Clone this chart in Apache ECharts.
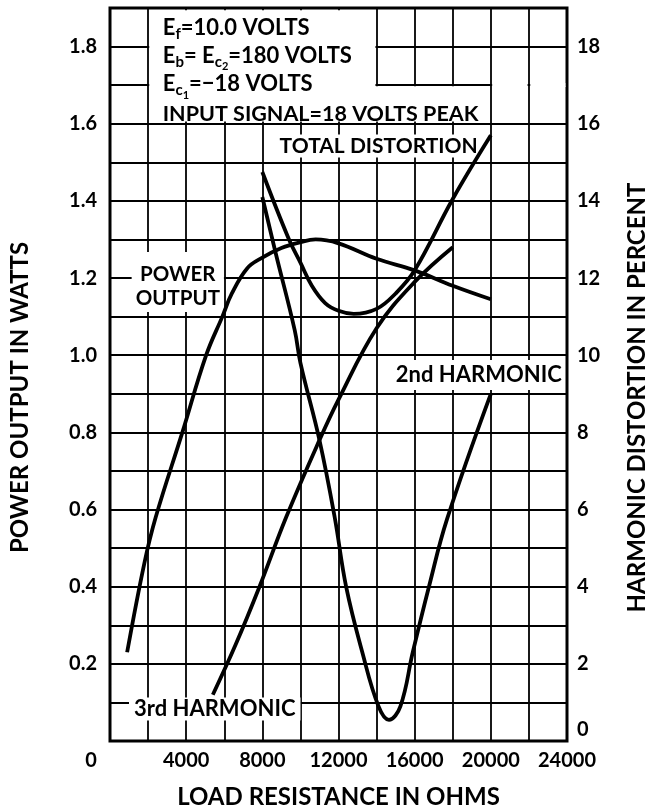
<!DOCTYPE html>
<html>
<head>
<meta charset="utf-8">
<script src="https://cdn.jsdelivr.net/npm/echarts@6/dist/echarts.min.js"></script>
<style>html,body{margin:0;padding:0;background:#fff}#c{width:652px;height:812px}</style>
</head>
<body>
<div id="c"></div>
<script>
// ---- data (load resistance in ohms, value) ----
const xTickLabels = [0, 4000, 8000, 12000, 16000, 20000, 24000];
const leftTickLabels = [0.2, 0.4, 0.6, 0.8, 1.0, 1.2, 1.4, 1.6, 1.8];
const rightTickLabels = [0, 2, 4, 6, 8, 10, 12, 14, 16, 18];

// Power output, watts (left axis)
const powerOutput = [
  [900, 0.23], [1800, 0.46], [2400, 0.58], [3800, 0.80], [5050, 1.0], [5900, 1.10],
  [6400, 1.16], [7200, 1.225], [8000, 1.253], [9000, 1.278], [10000, 1.293],
  [10800, 1.30], [12000, 1.29], [14000, 1.25], [16000, 1.22], [18000, 1.18], [20000, 1.145]
];
// Total distortion, percent (right axis)
const totalDistortion = [
  [8000, 14.75], [9400, 13.0], [10000, 12.4], [10600, 11.8], [11300, 11.35],
  [12000, 11.15], [12800, 11.07], [14000, 11.2], [15000, 11.6], [16000, 12.2],
  [18000, 14.05], [20000, 15.7]
];
// 2nd harmonic, percent (right axis)
const secondHarmonic = [
  [8000, 14.1], [8700, 12.65], [9700, 10.65], [10000, 9.8], [11000, 7.8],
  [11800, 5.8], [12400, 4.0], [13250, 2.3], [14100, 0.9], [14650, 0.55],
  [15250, 0.9], [15900, 2.3], [16750, 4.0], [17700, 5.75], [20000, 9.0]
];
// 3rd harmonic, percent (right axis)
const thirdHarmonic = [
  [5400, 1.2], [6600, 2.5], [7850, 4.0], [9250, 5.8], [11000, 7.8],
  [12000, 8.85], [14000, 10.7], [16000, 11.9], [18000, 12.8]
];

const FONT = 'Lato';
const BLACK = '#000';
const chart = echarts.init(document.getElementById('c'), null, {renderer: 'canvas'});

const tickFont = {fontFamily: FONT, fontWeight: 'bold', fontSize: 20, color: BLACK};
function annFont(size) {
  return {fontFamily: FONT, fontWeight: 'bold', fontSize: size, color: BLACK};
}
const titleFont = {fontFamily: FONT, fontWeight: 'bold', fontSize: 24, color: BLACK};

const richBox = {
  n: {fontFamily: FONT, fontWeight: 'bold', fontSize: 22, color: BLACK, lineHeight: 26},
  w: {fontFamily: FONT, fontWeight: 'bold', fontSize: 21.5, color: BLACK, lineHeight: 26},
  s: {fontFamily: FONT, fontWeight: 'bold', fontSize: 15, color: BLACK, lineHeight: 26, padding: [12, 0, 0, 0]},
  ss: {fontFamily: FONT, fontWeight: 'bold', fontSize: 11, color: BLACK, lineHeight: 26, padding: [22, 0, 0, 0]}
};

function boxLine(coord, text) {
  return {coord: coord, label: {formatter: text}};
}

const option = {
  animation: false,
  backgroundColor: '#fff',
  grid: {
    left: 110, right: 85, top: 8, bottom: 71, outerBoundsMode: 'none', containLabel: false,
    show: true, borderColor: BLACK, borderWidth: 3, backgroundColor: 'transparent'
  },
  xAxis: {
    type: 'value', min: 0, max: 24000, interval: 2000,
    name: 'LOAD RESISTANCE IN OHMS', nameLocation: 'middle', nameGap: 44,
    nameTextStyle: titleFont,
    axisLine: {show: false}, axisTick: {show: false},
    splitLine: {show: true, lineStyle: {color: BLACK, width: 1.8}},
    axisLabel: Object.assign({}, tickFont, {
      margin: 10,
      formatter: v => xTickLabels.includes(v) ? (v === 0 ? '{z|0}' : String(v)) : '',
      rich: {z: Object.assign({}, tickFont, {padding: [0, 38, 0, 0]})}
    })
  },
  yAxis: [
    {
      type: 'value', min: 0, max: 1.9, interval: 0.1, position: 'left',
      name: 'POWER OUTPUT IN WATTS', nameLocation: 'middle', nameGap: 78, nameRotate: 90,
      nameTextStyle: Object.assign({}, titleFont, {padding: [0, 46, 0, 0]}),
      axisLine: {show: false}, axisTick: {show: false},
      splitLine: {show: true, lineStyle: {color: BLACK, width: 1.8}},
      axisLabel: Object.assign({}, tickFont, {
        margin: 13,
        formatter: v => {
          const t = leftTickLabels.find(l => Math.abs(l - v) < 1e-6);
          return t !== undefined ? t.toFixed(1) : '';
        }
      })
    },
    {
      type: 'value', min: 0, max: 19, interval: 1, position: 'right',
      name: 'HARMONIC DISTORTION IN PERCENT', nameLocation: 'middle', nameGap: 58, nameRotate: 90,
      nameTextStyle: Object.assign({}, titleFont, {padding: [0, 46, 0, 0]}),
      axisLine: {show: false}, axisTick: {show: false}, splitLine: {show: false},
      axisLabel: Object.assign({}, tickFont, {
        margin: 10,
        formatter: v => rightTickLabels.includes(v) ? (v === 0 ? '{z|0}' : String(v)) : '',
        rich: {z: Object.assign({}, tickFont, {padding: [0, 0, 22, 0]})}
      })
    }
  ],
  series: [
    {
      name: 'POWER OUTPUT', type: 'line', yAxisIndex: 0, data: powerOutput,
      symbol: 'none', smooth: 0.4, lineStyle: {color: BLACK, width: 3.8}, z: 5,
      markArea: {
        silent: true, itemStyle: {color: '#fff', opacity: 1},
        data: [
          [{coord: [2060, 1.894]}, {coord: [13940, 1.69]}],
          [{coord: [2060, 1.697]}, {coord: [19940, 1.606]}],
          [{coord: [20070, 1.704]}, {coord: [21930, 1.696]}],
          [{coord: [22070, 1.704]}, {coord: [23930, 1.696]}]
        ]
      },
      markPoint: {
        silent: true, symbol: 'rect', symbolSize: 0,
        label: {show: true, position: 'right', distance: 0, rich: richBox},
        data: [
          boxLine([2770, 1.848], '{n|E}{s|f}{n|=10.0 VOLTS}'),
          boxLine([2770, 1.776], '{n|E}{s|b}{n|= E}{s|c}{ss|2}{n|=180 VOLTS}'),
          boxLine([2770, 1.703], '{n|E}{s|c}{ss|1}{n|=\u221218 VOLTS}'),
          boxLine([2770, 1.625], '{w|INPUT SIGNAL=18 VOLTS PEAK}'),
          {coord: [3560, 1.19], label: Object.assign(annFont(20.5), {
            position: 'inside', formatter: 'POWER\nOUTPUT', lineHeight: 24,
            backgroundColor: '#fff', padding: [10, 4, 2, 4]
          })}
        ]
      }
    },
    {
      name: 'TOTAL DISTORTION', type: 'line', yAxisIndex: 1, data: totalDistortion,
      symbol: 'none', smooth: 0.4, lineStyle: {color: BLACK, width: 3.8}, z: 5,
      markPoint: {
        silent: true, symbol: 'rect', symbolSize: 0,
        label: Object.assign(annFont(21), {show: true, position: 'inside', backgroundColor: '#fff', padding: [2, 8, 0, 8]}),
        data: [{coord: [14110, 15.42], label: {formatter: 'TOTAL DISTORTION'}}]
      }
    },
    {
      name: '2nd HARMONIC', type: 'line', yAxisIndex: 1, data: secondHarmonic,
      symbol: 'none', smooth: 0.4, lineStyle: {color: BLACK, width: 3.8}, z: 5,
      markPoint: {
        silent: true, symbol: 'rect', symbolSize: 0,
        label: Object.assign(annFont(22), {show: true, position: 'inside', backgroundColor: '#fff', padding: [8, 3, 0, 3]}),
        data: [{coord: [19370, 9.49], label: {formatter: '2nd HARMONIC'}}]
      }
    },
    {
      name: '3rd HARMONIC', type: 'line', yAxisIndex: 1, data: thirdHarmonic,
      symbol: 'none', smooth: 0.4, lineStyle: {color: BLACK, width: 3.8}, z: 5,
      markPoint: {
        silent: true, symbol: 'rect', symbolSize: 0,
        label: Object.assign(annFont(22), {show: true, position: 'inside', backgroundColor: '#fff', padding: [1, 5, 0, 5]}),
        data: [{coord: [5500, 0.83], label: {formatter: '3rd HARMONIC'}}]
      }
    }
  ]
};
chart.setOption(option);
</script>
</body>
</html>
